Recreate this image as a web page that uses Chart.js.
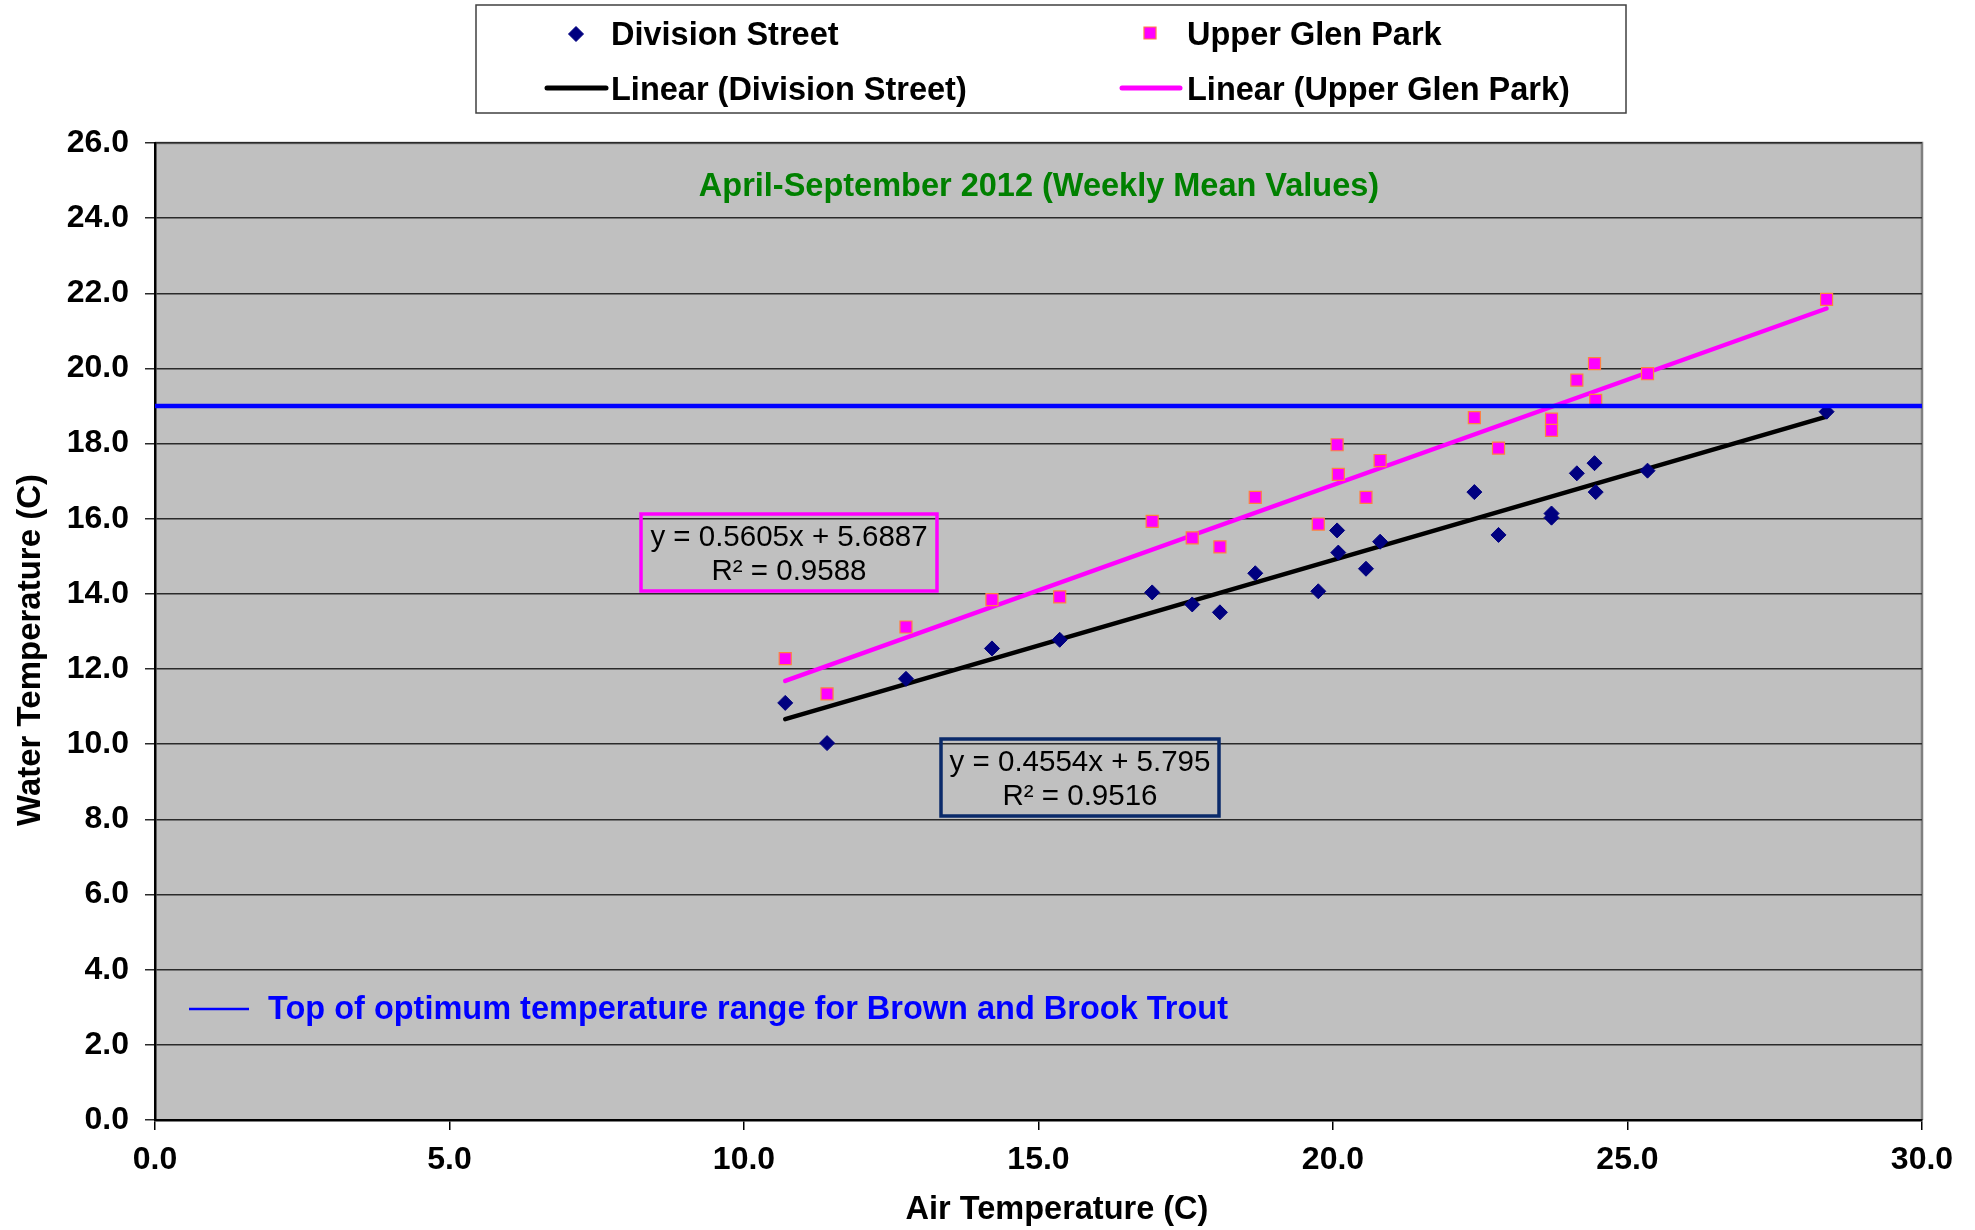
<!DOCTYPE html>
<html>
<head>
<meta charset="utf-8">
<script src="https://cdn.jsdelivr.net/npm/chart.js@4.4.1/dist/chart.umd.min.js"></script>
<style>
html,body{margin:0;padding:0;background:#ffffff;}
#wrap{width:1975px;height:1230px;position:relative;}
</style>
</head>
<body>
<div id="wrap"><canvas id="c" width="1975" height="1230"></canvas></div>
<script>
// ---------------- data ----------------
const airTemps = [10.70, 11.41, 12.75, 14.21, 15.36, 16.93, 17.61, 18.08, 18.68, 19.75, 20.07, 20.09, 20.56, 20.80, 22.40, 22.81, 23.71, 23.71, 24.14, 24.44, 24.46, 25.34, 28.38];
const divisionWater = [11.10, 10.03, 11.74, 12.55, 12.78, 14.04, 13.72, 13.51, 14.55, 14.07, 15.69, 15.10, 14.67, 15.39, 16.71, 15.57, 16.14, 16.03, 17.21, 17.48, 16.71, 17.28, 18.85];
const upperGlenWater = [12.28, 11.34, 13.12, 13.85, 13.92, 15.93, 15.49, 15.25, 16.57, 15.86, 17.97, 17.18, 16.57, 17.55, 18.69, 17.88, 18.65, 18.35, 19.69, 20.13, 19.15, 19.86, 21.84];
const seriesNames = ["Division Street", "Upper Glen Park", "Linear (Division Street)", "Linear (Upper Glen Park)"];
const divisionFit = {slope: 0.4554, intercept: 5.795, r2: "0.9516", eq: "y = 0.4554x + 5.795"};
const upperGlenFit = {slope: 0.5605, intercept: 5.6887, r2: "0.9588", eq: "y = 0.5605x + 5.6887"};
const optimumTemp = 19.0;
const optimumRangeX = [0, 30];
const xTickValues = [0, 5, 10, 15, 20, 25, 30];
const yTickValues = [0, 2, 4, 6, 8, 10, 12, 14, 16, 18, 20, 22, 24, 26];
const chartTitle = "April-September 2012 (Weekly Mean Values)";
const optimumLabel = "Top of optimum temperature range for Brown and Brook Trout";
const xAxisTitle = "Air Temperature (C)";
const yAxisTitle = "Water Temperature (C)";

// ---------------- helpers ----------------
const FONT = '"Liberation Sans", Arial, Helvetica, sans-serif';
const xMin = Math.min(...airTemps), xMax = Math.max(...airTemps);
const fitLine = f => [{x: xMin, y: f.slope * xMin + f.intercept}, {x: xMax, y: f.slope * xMax + f.intercept}];
const pts = (xs, ys) => xs.map((x, i) => ({x: x, y: ys[i]}));

const plotBg = {
  id: 'plotBg',
  beforeDraw(chart) {
    const {ctx, chartArea: a} = chart;
    ctx.save();
    ctx.fillStyle = '#C0C0C0';
    ctx.fillRect(a.left, a.top, a.right - a.left, a.bottom - a.top);
    ctx.strokeStyle = '#808080';
    ctx.lineWidth = 2.5;
    ctx.beginPath();
    ctx.moveTo(a.left, a.top); ctx.lineTo(a.right, a.top); ctx.lineTo(a.right, a.bottom);
    ctx.stroke();
    ctx.restore();
  }
};

const annotations = {
  id: 'annotations',
  afterDatasetsDraw(chart) {
    const {ctx, chartArea: a} = chart;
    ctx.save();
    // title inside plot
    ctx.fillStyle = '#008000';
    ctx.font = 'bold 32.5px ' + FONT;
    ctx.textAlign = 'center';
    ctx.textBaseline = 'middle';
    ctx.fillText(chartTitle, a.left + 884, a.top + 44);

    // equation boxes
    const box = (x1, y1, x2, y2, color, l1, l2) => {
      ctx.strokeStyle = color;
      ctx.lineWidth = 3.5;
      ctx.strokeRect(x1, y1, x2 - x1, y2 - y1);
      ctx.fillStyle = '#000';
      ctx.font = '29.5px ' + FONT;
      ctx.textAlign = 'center';
      ctx.textBaseline = 'middle';
      const cx = (x1 + x2) / 2;
      ctx.fillText(l1, cx, y1 + (y2 - y1) * 0.31);
      ctx.fillText(l2, cx, y1 + (y2 - y1) * 0.75);
    };
    box(a.left + 486, a.top + 371, a.left + 782, a.top + 448, '#FF00FF', upperGlenFit.eq, 'R\u00B2 = ' + upperGlenFit.r2);
    box(a.left + 786, a.top + 596, a.left + 1064, a.top + 673, '#0A2A6A', divisionFit.eq, 'R\u00B2 = ' + divisionFit.r2);

    // optimum label
    ctx.strokeStyle = '#0000FF';
    ctx.lineWidth = 2.5;
    ctx.beginPath();
    ctx.moveTo(a.left + 34, a.top + 866); ctx.lineTo(a.left + 94, a.top + 866);
    ctx.stroke();
    ctx.fillStyle = '#0000FF';
    ctx.font = 'bold 32.5px ' + FONT;
    ctx.textAlign = 'left';
    ctx.textBaseline = 'middle';
    ctx.fillText(optimumLabel, a.left + 113, a.top + 867);
    ctx.restore();
  }
};

const axisTitles = {
  id: 'axisTitles',
  afterDraw(chart) {
    const {ctx} = chart;
    ctx.save();
    ctx.fillStyle = '#000';
    ctx.textAlign = 'center';
    ctx.textBaseline = 'middle';
    ctx.font = 'bold 32.5px ' + FONT;
    ctx.fillText(xAxisTitle, 1057, 1210);
    ctx.translate(31, 650);
    ctx.rotate(-Math.PI / 2);
    ctx.font = 'bold 33px ' + FONT;
    ctx.fillText(yAxisTitle, 0, 0);
    ctx.restore();
  }
};

const boxLegend = {
  id: 'boxLegend',
  afterDraw(chart) {
    const {ctx} = chart;
    const ds = chart.data.datasets;
    ctx.save();
    ctx.fillStyle = '#FFFFFF';
    ctx.fillRect(476, 5, 1150, 108);
    ctx.strokeStyle = '#404040';
    ctx.lineWidth = 1.5;
    ctx.strokeRect(476, 5, 1150, 108);
    ctx.font = 'bold 32.5px ' + FONT;
    ctx.textAlign = 'left';
    ctx.textBaseline = 'middle';
    const mk = (d, x, y) => {
      ctx.fillStyle = d.backgroundColor;
      ctx.strokeStyle = d.borderColor;
      ctx.lineWidth = d.borderWidth;
      Chart.helpers.drawPoint(ctx, {pointStyle: d.pointStyle, radius: d.pointRadius, borderWidth: d.borderWidth, rotation: 0}, x, y);
    };
    mk(ds[0], 576, 34);
    mk(ds[1], 1150, 33);
    ctx.fillStyle = '#000';
    ctx.fillText(ds[0].label, 611, 36);
    ctx.fillText(ds[1].label, 1187, 36);
    const ln = (d, x1, x2, y) => {
      ctx.strokeStyle = d.borderColor;
      ctx.lineWidth = 5;
      ctx.lineCap = 'round';
      ctx.beginPath(); ctx.moveTo(x1, y); ctx.lineTo(x2, y); ctx.stroke();
    };
    ln(ds[2], 547, 606, 88);
    ln(ds[3], 1122, 1180, 88);
    ctx.fillStyle = '#000';
    ctx.fillText(ds[2].label, 611, 91);
    ctx.fillText(ds[3].label, 1187, 91);
    ctx.restore();
  }
};

new Chart(document.getElementById('c'), {
  type: 'scatter',
  data: {
    datasets: [
      {label: seriesNames[0], data: pts(airTemps, divisionWater), pointStyle: 'rectRot', pointRadius: 7.5, pointHoverRadius: 7.5,
       backgroundColor: '#000080', borderColor: '#000080', borderWidth: 1, order: 1},
      {label: seriesNames[1], data: pts(airTemps, upperGlenWater), pointStyle: 'rect', pointRadius: 8.5, pointHoverRadius: 8.5,
       backgroundColor: '#FF00FF', borderColor: '#FF8040', borderWidth: 1.2, order: 1},
      {label: seriesNames[2], type: 'line', data: fitLine(divisionFit), borderColor: '#000000', borderWidth: 4.5,
       pointRadius: 0, fill: false, borderCapStyle: 'round', order: 2},
      {label: seriesNames[3], type: 'line', data: fitLine(upperGlenFit), borderColor: '#FF00FF', borderWidth: 4.5,
       pointRadius: 0, fill: false, borderCapStyle: 'round', order: 2},
      {label: 'Optimum', type: 'line', data: optimumRangeX.map(x => ({x: x, y: optimumTemp})), borderColor: '#0000FF', borderWidth: 4.5,
       pointRadius: 0, fill: false, order: 0}
    ]
  },
  options: {
    responsive: false,
    animation: false,
    devicePixelRatio: 1,
    layout: {padding: {top: 143, right: 53, left: 0, bottom: 0}},
    plugins: {legend: {display: false}, tooltip: {enabled: false}},
    scales: {
      x: {
        type: 'linear', min: 0, max: 30,
        afterBuildTicks: s => { s.ticks = xTickValues.map(v => ({value: v})); },
        afterFit: s => { s.height = 110; },
        ticks: {callback: v => Number(v).toFixed(1), font: {family: FONT, size: 32, weight: 'bold'}, color: '#000', padding: 11, maxRotation: 0},
        grid: {drawOnChartArea: false, drawTicks: true, tickLength: 10, color: '#000', lineWidth: 1.5},
        border: {display: true, color: '#000', width: 2.5},
        title: {display: false}
      },
      y: {
        type: 'linear', min: 0, max: 26,
        afterBuildTicks: s => { s.ticks = yTickValues.map(v => ({value: v})); },
        afterFit: s => { s.width = 155; },
        ticks: {callback: v => Number(v).toFixed(1), font: {family: FONT, size: 32, weight: 'bold'}, color: '#000', padding: 16},
        grid: {color: '#2a2a2a', lineWidth: 1.5, drawTicks: true, tickLength: 10},
        border: {display: true, color: '#000', width: 2.5},
        title: {display: false}
      }
    }
  },
  plugins: [plotBg, annotations, axisTitles, boxLegend]
});
</script>
</body>
</html>
